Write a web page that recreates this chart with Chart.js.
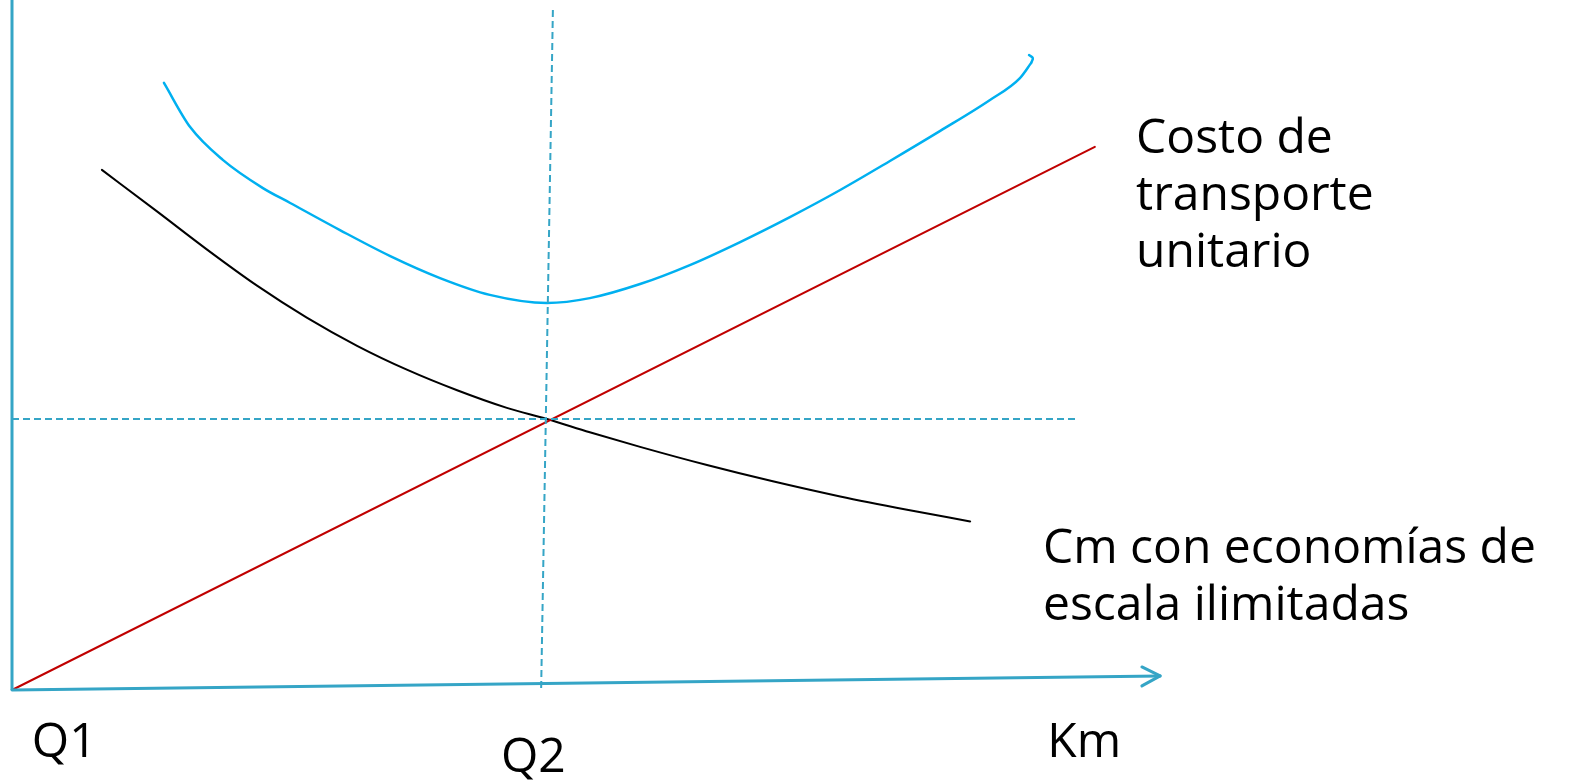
<!DOCTYPE html>
<html lang="es">
<head>
<meta charset="utf-8">
<title>Costo de transporte y economías de escala</title>
<script src="https://cdn.jsdelivr.net/npm/chart.js@4/dist/chart.umd.min.js"></script>
<style>
  html, body { margin: 0; padding: 0; background: #fff; overflow: hidden; }
  #wrap { width: 1577px; height: 781px; }
</style>
</head>
<body>
<div id="wrap"><canvas id="chart" width="1577" height="781"></canvas></div>
<script>
(function () {
  'use strict';

  // datos: x = km (Q2 = 100), y = costo (punto de corte = 100)
  var costoTotalX = [28.4, 33.3, 39.4, 46.9, 52.0, 61.3, 70.7, 80.0, 89.3, 100.0, 108.0, 117.4, 126.7, 136.1, 145.4, 154.8, 164.1, 173.5, 182.8, 188.4, 190.5];
  var costoTotalY = [224.0, 207.7, 195.6, 185.2, 179.7, 169.7, 160.1, 152.0, 145.8, 142.8, 144.6, 149.8, 156.8, 165.3, 174.5, 184.5, 195.2, 206.3, 217.7, 225.8, 231.4];
  // pequeño gancho al final del trazo azul
  var ganchoX = [190.5, 190.8, 190.1];
  var ganchoY = [231.4, 233.2, 234.3];

  var cmEscalaX = [16.8, 27.1, 36.4, 45.8, 55.1, 64.5, 73.8, 83.2, 92.5, 100.0, 108.0, 117.4, 129.9, 142.2, 154.8, 167.3, 179.1];
  var cmEscalaY = [191.9, 176.6, 162.6, 149.2, 137.4, 127.0, 118.2, 110.6, 104.1, 100.0, 95.1, 89.7, 83.0, 77.0, 71.4, 66.5, 62.2];

  var transporteX = [0, 202.4];
  var transporteY = [0, 200.4];

  // ejes y guías
  var ejeYX = [0, 0];
  var ejeYY = [0, 256];
  var ejeXX = [0, 214.6];
  var ejeXY = [0, 5.2];
  var flechaX = [211.2, 214.6, 211.2];
  var flechaY = [8.5, 5.2, 1.5];
  var guiaVX = [101.1, 98.9];
  var guiaVY = [250.9, 0];
  var guiaHX = [0, 199.3];
  var guiaHY = [100, 100];

  // textos
  var etiquetas = [
    { lineas: ['Costo de', 'transporte', 'unitario'], x: 210.1, y: 198.2 },
    { lineas: ['Cm con economías de', 'escala ilimitadas'], x: 192.7, y: 46.9 },
    { lineas: ['Q1'], x: 3.7, y: -24.7 },
    { lineas: ['Q2'], x: 91.4, y: -30.3 },
    { lineas: ['Km'], x: 193.5, y: -24.7 }
  ];

  function puntos(xs, ys) {
    return xs.map(function (x, i) { return { x: x, y: ys[i] }; });
  }

  var AZUL_EJE = '#35a5c6';

  function linea(xs, ys, color, ancho, extra) {
    var d = {
      data: puntos(xs, ys),
      showLine: true,
      borderColor: color,
      backgroundColor: color,
      borderWidth: ancho,
      pointRadius: 0,
      pointHoverRadius: 0,
      tension: 0,
      fill: false,
      borderCapStyle: 'round',
      borderJoinStyle: 'round'
    };
    if (extra) Object.keys(extra).forEach(function (k) { d[k] = extra[k]; });
    return d;
  }

  var textos = {
    id: 'textos',
    afterDraw: function (chart) {
      var c = chart.ctx;
      var sx = chart.scales.x;
      var sy = chart.scales.y;
      c.save();
      c.fillStyle = '#000';
      c.font = '48px "Open Sans", "DejaVu Sans", sans-serif';
      c.textBaseline = 'alphabetic';
      c.textAlign = 'left';
      etiquetas.forEach(function (e) {
        var px = sx.getPixelForValue(e.x);
        var py = sy.getPixelForValue(e.y);
        e.lineas.forEach(function (t, i) {
          c.fillText(t, px, py + i * 57);
        });
      });
      c.restore();
    }
  };

  new Chart(document.getElementById('chart').getContext('2d'), {
    type: 'scatter',
    data: {
      datasets: [
        linea(guiaHX, guiaHY, AZUL_EJE, 2, { borderDash: [7, 4], borderCapStyle: 'butt' }),
        linea(guiaVX, guiaVY, AZUL_EJE, 2, { borderDash: [7, 4], borderCapStyle: 'butt' }),
        linea(ejeYX, ejeYY, AZUL_EJE, 3, { borderCapStyle: 'butt' }),
        linea(ejeXX, ejeXY, AZUL_EJE, 3),
        linea(flechaX, flechaY, AZUL_EJE, 3),
        linea(transporteX, transporteY, '#c00000', 2),
        linea(cmEscalaX, cmEscalaY, '#000000', 2, { cubicInterpolationMode: 'monotone' }),
        linea(costoTotalX, costoTotalY, '#00b0f0', 2.5, { cubicInterpolationMode: 'monotone' }),
        linea(ganchoX, ganchoY, '#00b0f0', 2.5, { tension: 0.4 })
      ]
    },
    options: {
      responsive: false,
      animation: false,
      layout: { padding: 0 },
      plugins: {
        legend: { display: false },
        tooltip: { enabled: false }
      },
      scales: {
        x: { type: 'linear', display: false, min: -2.243, max: 292.52 },
        y: { type: 'linear', display: false, min: -33.58, max: 254.6 }
      }
    },
    plugins: [textos]
  });
})();
</script>
</body>
</html>
